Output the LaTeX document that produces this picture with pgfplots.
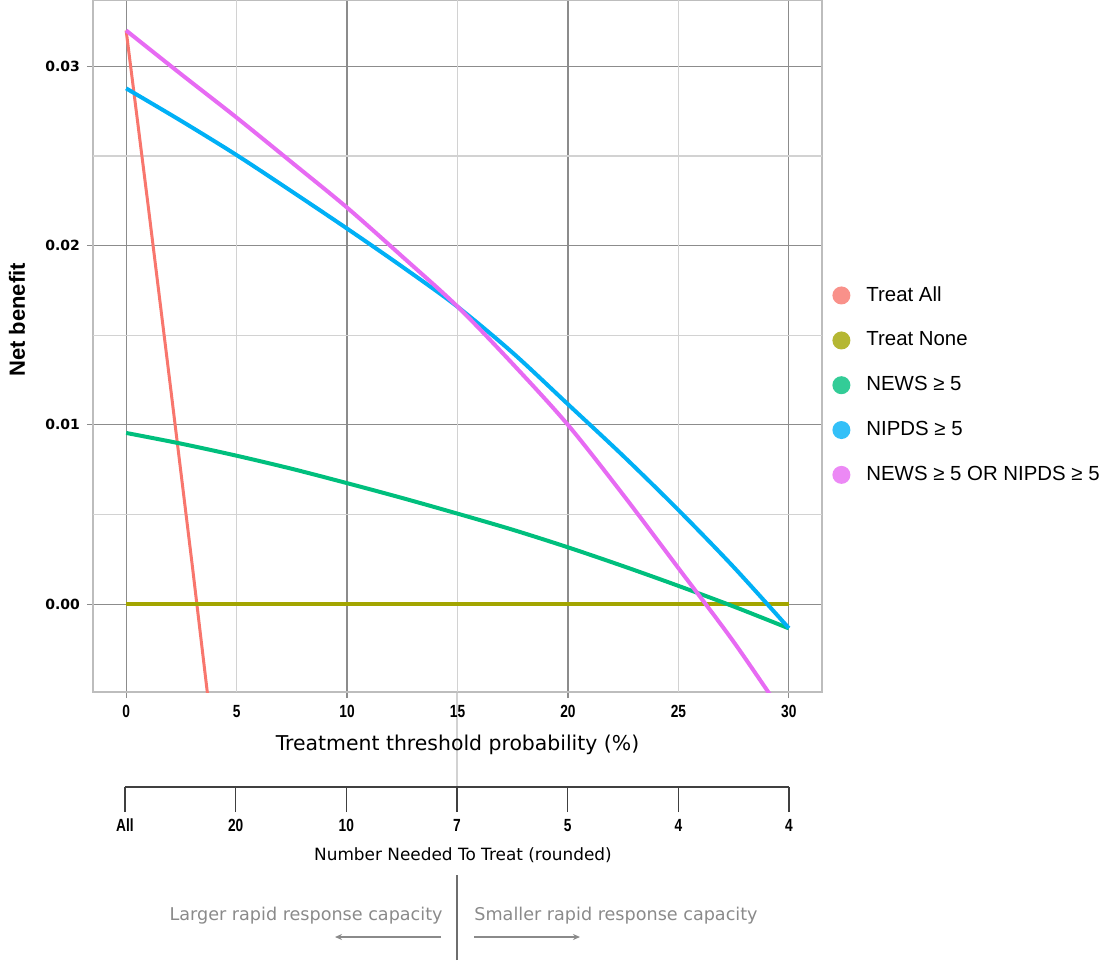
\documentclass[border=0pt]{standalone}
\usepackage{fontspec}
\setmainfont{Liberation Sans}
\newfontfamily\dvs{DejaVu Sans}
\newfontfamily\narrowbold[FakeStretch=0.78]{Liberation Sans}
\usepackage{pgfplots}
\pgfplotsset{compat=1.18}
\usetikzlibrary{arrows.meta}
\definecolor{cAll}{HTML}{F8766D}
\definecolor{cNone}{HTML}{A3A500}
\definecolor{cNews}{HTML}{00BF7D}
\definecolor{cNipds}{HTML}{00B0F6}
\definecolor{cOr}{HTML}{E76BF3}
\definecolor{gmaj}{HTML}{8C8C8C}
\definecolor{gmin}{HTML}{D2D2D2}
\definecolor{gtxt}{HTML}{8A8A8A}

\pgfplotstableread{
x y
0 0.0320
1 0.0222
2 0.0122
3 0.0021
4 -0.0083
}\treatall
\pgfplotstableread{
x y
0 0
30 0
}\treatnone
\pgfplotstableread{
x y
0 0.00955
2.5 0.00895
5 0.00828
7.5 0.00755
10 0.00675
12.5 0.00592
15 0.00505
17.5 0.00415
20 0.00317
22.5 0.00212
25 0.00102
27.5 -0.00013
30 -0.00135
}\news
\pgfplotstableread{
x y
0 0.02877
2.5 0.02695
5 0.02505
7.5 0.02302
10 0.02095
12.5 0.01882
15 0.01659
17.5 0.01402
20 0.01115
22.5 0.00827
25 0.00525
27.5 0.00207
30 -0.00134
}\nipds
\pgfplotstableread{
x y
0 0.0320
2.5 0.02955
5 0.02714
7.5 0.02464
10 0.02212
12.5 0.01939
15 0.0166
17.5 0.0134
20 0.0100
22.5 0.0061
25 0.00201
27.5 -0.0021
30 -0.0066
}\newsor

\begin{document}
\begin{tikzpicture}
\useasboundingbox (0pt,0pt) rectangle (551pt,480pt);
% light guide line below main axis at x=15
\draw[gmin, line width=0.6pt] (228.5pt,134pt) -- (228.5pt,86.5pt);
\begin{axis}[
  at={(46.5pt,134pt)}, anchor=south west, scale only axis,
  width=364.5pt, height=346pt,
  xmin=-1.5, xmax=31.5, ymin=-0.0049, ymax=0.0337,
  xtick={0,10,20,30}, ytick={0,0.01,0.02,0.03},
  extra x ticks={5,15,25},
  extra y ticks={0.005,0.015,0.025}, extra y tick labels={},
  extra x tick style={grid style={gmin, line width=0.6pt}, tick style={draw=none}},
  extra y tick style={grid style={gmin, line width=0.6pt}, tick style={draw=none}},
  grid=major, grid style={gmaj, line width=0.55pt},
  axis line style={gmin!90!black, line width=0.8pt},
  tick align=outside, major tick length=3pt,
  tick style={gmaj, line width=0.6pt},
  xtick pos=bottom, ytick pos=left,
  scaled y ticks=false,
  yticklabel style={/pgf/number format/fixed, /pgf/number format/fixed zerofill, /pgf/number format/precision=2, font=\dvs\bfseries\fontsize{7}{8}\selectfont, black},
  xticklabel style={font=\narrowbold\bfseries\fontsize{8.8}{10}\selectfont, black},
  /pgf/number format/assume math mode=true,
  xlabel={Treatment threshold probability (\%)},
  xlabel style={at={(axis description cs:0.5,-0.0766)}, anchor=center, font=\dvs\fontsize{10.2}{12}\selectfont},
  ylabel={Net benefit},
  ylabel style={at={(axis description cs:-0.1043,0.5376)}, anchor=center, rotate=0, font=\bfseries\fontsize{11}{13}\selectfont},
  legend cell align=left,
  legend style={at={(1,0.4436)}, anchor=west, xshift=2pt, draw=none, fill=none,
    font=\fontsize{10.2}{12}\selectfont, row sep=10.8pt,
    nodes={inner sep=1.5pt}},
  legend image code/.code={\fill[#1, draw=none, fill opacity=0.8] (4.5pt,0pt) circle (4.5pt); \path[draw=none] (0pt,0pt) -- (15.5pt,0pt);},
  clip=true,
]
\addplot[cAll, line width=1.5pt, no markers] table {\treatall};
\addlegendentry{Treat All}
\addplot[cNone, line width=2pt, no markers] table {\treatnone};
\addlegendentry{Treat None}
\addplot[cNews, line width=2pt, no markers, smooth] table {\news};
\addlegendentry{NEWS ≥ 5}
\addplot[cNipds, line width=2pt, no markers, smooth] table {\nipds};
\addlegendentry{NIPDS ≥ 5}
\addplot[cOr, line width=2pt, no markers, smooth] table {\newsor};
\addlegendentry{NEWS ≥ 5 OR NIPDS ≥ 5}
\end{axis}
% NNT axis
\begin{axis}[
  at={(62.5pt,86.5pt)}, anchor=south west, scale only axis,
  width=332pt, height=10pt,
  xmin=0, xmax=30, ymin=0, ymax=1,
  axis x line*=bottom, axis y line=none,
  axis line style={black!75, line width=0.6pt},
  xtick={0,5,10,15,20,25,30},
  xticklabels={All,20,10,7,5,4,4},
  tick align=outside, major tick length=12.5pt,
  tick style={black!75, line width=0.6pt},
  xticklabel style={font=\narrowbold\bfseries\fontsize{8.8}{10}\selectfont, black},
  xlabel={Number Needed To Treat (rounded)},
  xlabel style={at={(axis description cs:0.509,-3.4)}, anchor=center, font=\dvs\fontsize{8.45}{10}\selectfont},
]
\addplot[draw=none] coordinates {(0,0)};
\end{axis}
% bottom annotation
\draw[gtxt!80!black, line width=0.6pt] (228.5pt,0pt) -- (228.5pt,42.5pt);
\node[anchor=base east, text=gtxt, font=\dvs\fontsize{8.8}{10}\selectfont, inner sep=0pt] at (221.5pt,20pt) {Larger rapid response capacity};
\node[anchor=base west, text=gtxt, font=\dvs\fontsize{8.8}{10}\selectfont, inner sep=0pt] at (237pt,20pt) {Smaller rapid response capacity};
\draw[gtxt, line width=0.6pt, -{Stealth[length=3.5pt,width=3pt]}] (220.5pt,11.5pt) -- (167.5pt,11.5pt);
\draw[gtxt, line width=0.6pt, -{Stealth[length=3.5pt,width=3pt]}] (237pt,11.5pt) -- (290pt,11.5pt);
\end{tikzpicture}
\end{document}
